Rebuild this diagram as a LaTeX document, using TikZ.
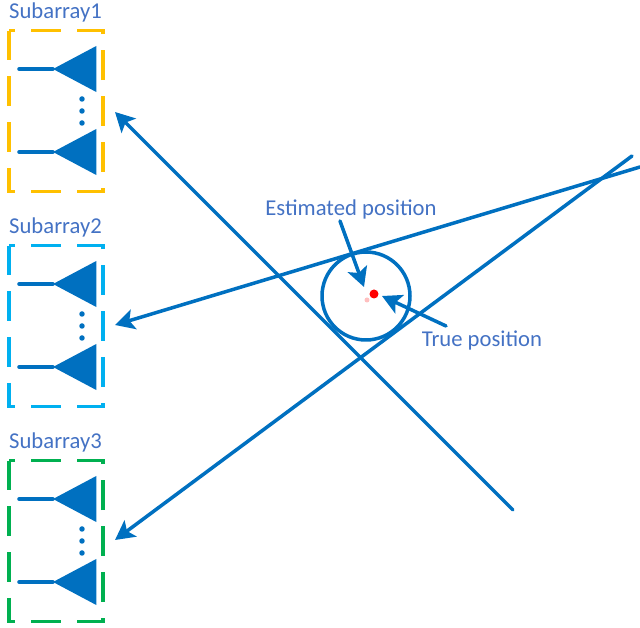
\documentclass[tikz,border=0pt]{standalone}
\usepackage{fontspec}
\setmainfont{Carlito}
\usetikzlibrary{arrows.meta,shapes.geometric}
\definecolor{linkblue}{HTML}{0070C0}
\definecolor{textblue}{HTML}{4472C4}
\definecolor{subyellow}{HTML}{FFC000}
\definecolor{subcyan}{HTML}{00B0F0}
\definecolor{subgreen}{HTML}{00B050}
\tikzstyle{subbox} = [rectangle, minimum width=1.88cm, minimum height=3.22cm, inner sep=0pt, outer sep=0pt]
\tikzstyle{subedge} = [line width=1.9pt, dash pattern=on 17pt off 9.07pt]
\tikzstyle{sublabel} = [text=textblue, font=\fontsize{12.9}{15}\selectfont, inner sep=0pt]
\tikzstyle{antenna} = [isosceles triangle, isosceles triangle apex angle=56, shape border rotate=180, fill=linkblue, inner sep=0pt, outer sep=0pt, minimum height=0.87cm, anchor=apex]
\tikzstyle{feed} = [draw=linkblue, line width=2pt, line cap=round]
\tikzstyle{link} = [draw=linkblue, line width=2pt, line cap=round, -{Stealth[length=11pt,width=11.5pt,inset=2.5pt]}]
\tikzstyle{vdot} = [circle, fill=linkblue, inner sep=0pt, minimum size=0.11cm]
\begin{document}
\begin{tikzpicture}[x=0.02cm, y=-0.02cm]
    \useasboundingbox (0,0) rectangle (640,628);

    %  subarray 1
    \node [sublabel] (L1) at (55.5,12) {Subarray1};
    \node [subbox] (B1) at (56,111) {};
    \draw [subedge, draw=subyellow] (B1.north west) -- (B1.south west) -- (B1.south east) -- (B1.north east) -- cycle;
    \node [antenna] (T11) at (53,69) {};
    \node [antenna] (T12) at (53,152) {};
    \coordinate (F11) at (19,69);
    \coordinate (F12) at (19,152);
    \draw [feed] (F11) -- (T11.apex);
    \draw [feed] (F12) -- (T12.apex);
    \node [vdot] (D11) at (82,99) {};
    \node [vdot] (D12) at (82,111) {};
    \node [vdot] (D13) at (82,123) {};

    %  subarray 2
    \node [sublabel] (L2) at (55.5,227) {Subarray2};
    \node [subbox] (B2) at (56,326) {};
    \draw [subedge, draw=subcyan] (B2.north west) -- (B2.south west) -- (B2.south east) -- (B2.north east) -- cycle;
    \node [antenna] (T21) at (53,284) {};
    \node [antenna] (T22) at (53,367) {};
    \coordinate (F21) at (19,284);
    \coordinate (F22) at (19,367);
    \draw [feed] (F21) -- (T21.apex);
    \draw [feed] (F22) -- (T22.apex);
    \node [vdot] (D21) at (82,314) {};
    \node [vdot] (D22) at (82,326) {};
    \node [vdot] (D23) at (82,338) {};

    %  subarray 3
    \node [sublabel] (L3) at (55.5,442) {Subarray3};
    \node [subbox] (B3) at (56,541) {};
    \draw [subedge, draw=subgreen] (B3.north west) -- (B3.south west) -- (B3.south east) -- (B3.north east) -- cycle;
    \node [antenna] (T31) at (53,499) {};
    \node [antenna] (T32) at (53,582) {};
    \coordinate (F31) at (19,499);
    \coordinate (F32) at (19,582);
    \draw [feed] (F31) -- (T31.apex);
    \draw [feed] (F32) -- (T32.apex);
    \node [vdot] (D31) at (82,529) {};
    \node [vdot] (D32) at (82,541) {};
    \node [vdot] (D33) at (82,553) {};

    %  beams
    \coordinate (S1) at (513,510);
    \coordinate (S2) at (640,167);
    \coordinate (S3) at (632,156);
    \coordinate (E1) at (115,112);
    \coordinate (E2) at (115,325);
    \coordinate (E3) at (115,540);
    \draw [link] (S1) -- (E1);
    \draw [link] (S2) -- (E2);
    \draw [link] (S3) -- (E3);

    %  position
    \node [circle, draw=linkblue, line width=2pt, minimum size=1.76cm, inner sep=0pt] (C) at (366,296) {};
    \node [circle, fill=red, inner sep=0pt, minimum size=0.18cm] (P) at (374,294) {};
    \node [circle, fill=red!25, inner sep=0pt, minimum size=0.1cm] (Q) at (367,300) {};
    \node [sublabel] (EST) at (351,209) {Estimated position};
    \node [sublabel] (TRUE) at (482,340) {True position};
    \coordinate (S4) at (340,221);
    \coordinate (E4) at (364,287);
    \coordinate (S5) at (446,326);
    \coordinate (E5) at (382,296);
    \draw [link] (S4) -- (E4);
    \draw [link] (S5) -- (E5);

\end{tikzpicture}
\end{document}
